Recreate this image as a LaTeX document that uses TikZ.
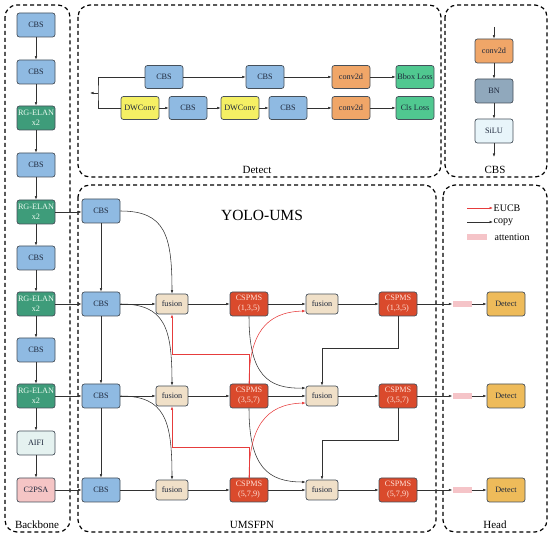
\documentclass[tikz,border=0pt]{standalone}
\usepackage{fontspec}
\setmainfont{Liberation Serif}
\usetikzlibrary{arrows.meta,calc}
\definecolor{cbsblue}{RGB}{143,186,226}
\definecolor{rggreen}{RGB}{62,156,122}
\definecolor{csred}{RGB}{218,74,44}
\definecolor{fusbeige}{RGB}{240,224,200}
\definecolor{convor}{RGB}{240,166,104}
\definecolor{lossgr}{RGB}{80,200,144}
\definecolor{dwyel}{RGB}{245,240,100}
\definecolor{bnslate}{RGB}{144,168,188}
\definecolor{silulb}{RGB}{232,245,250}
\definecolor{aifig}{RGB}{229,242,240}
\definecolor{c2pink}{RGB}{245,197,197}
\definecolor{detgold}{RGB}{238,187,90}
\definecolor{attpink}{RGB}{245,196,200}
\definecolor{boxline}{RGB}{70,80,90}
\definecolor{conline}{RGB}{50,50,50}
\definecolor{eucbred}{RGB}{230,60,60}
\definecolor{txtdark}{RGB}{30,40,60}
\begin{document}
\begin{tikzpicture}[x=1pt,y=-1pt,
  box/.style={draw=boxline, line width=0.7pt, rounded corners=2.5pt,
    minimum width=38pt, minimum height=24pt, inner sep=0.5pt, align=center,
    text=txtdark, font=\fontsize{8.2}{10}\selectfont},
  cbs/.style={box, fill=cbsblue},
  rg/.style={box, fill=rggreen, text={rgb,255:red,235;green,250;blue,240}},
  aifi/.style={box, fill=aifig},
  c2psa/.style={box, fill=c2pink},
  fus/.style={box, fill=fusbeige, minimum width=32pt, minimum height=20pt},
  csp/.style={box, fill=csred, text={rgb,255:red,255;green,225;blue,215}},
  conv/.style={box, fill=convor, minimum height=23pt},
  loss/.style={box, fill=lossgr, minimum height=23pt},
  dw/.style={box, fill=dwyel, minimum height=23pt},
  bn/.style={box, fill=bnslate},
  silu/.style={box, fill=silulb},
  det/.style={box, fill=detgold},
  att/.style={draw=none, fill=attpink, minimum width=19pt, minimum height=6pt, inner sep=0pt},
  line/.style={draw=conline, line width=0.55pt},
  arr/.style={line, -{Latex[length=3.5pt,width=2.6pt]}},
  eucb/.style={arr, draw=eucbred},
  panel/.style={draw=black, line width=1.2pt, dash pattern=on 4pt off 3pt, rounded corners=12pt},
  plabel/.style={font=\fontsize{11}{12}\selectfont, anchor=base},
  legtext/.style={font=\fontsize{10}{12}\selectfont, anchor=west, inner sep=0.5pt}
]
\useasboundingbox (0,0) rectangle (550,537);

% panels
\draw[panel] (5,5) rectangle (70,532);
\draw[panel] (78,5) rectangle (441,177);
\draw[panel] (445,5) rectangle (547,177);
\draw[panel] (78,185) rectangle (436,532);
\draw[panel] (443,185) rectangle (547,532);
\node[plabel] (lbb) at (37,529) {Backbone};
\node[plabel] (ldt) at (257,174) {Detect};
\node[plabel] (lcb) at (495,174) {CBS};
\node[plabel] (lum) at (252,529) {UMSFPN};
\node[plabel] (lhd) at (495,529) {Head};

% backbone
\node[cbs] (b1) at (36,25) {CBS};
\node[cbs] (b2) at (36,72) {CBS};
\node[rg] (b3) at (36,118) {RG-ELAN\\x2};
\node[cbs] (b4) at (36,165) {CBS};
\node[rg] (b5) at (36,212) {RG-ELAN\\x2};
\node[cbs] (b6) at (36,258) {CBS};
\node[rg] (b7) at (36,304) {RG-ELAN\\x2};
\node[cbs] (b8) at (36,350) {CBS};
\node[rg] (b9) at (36,396) {RG-ELAN\\x2};
\node[aifi] (b10) at (36,443) {AIFI};
\node[c2psa] (b11) at (36,490) {C2PSA};
\foreach \i/\j in {1/2,2/3,3/4,4/5,5/6,6/7,7/8,8/9,9/10,10/11}
  \draw[arr] (b\i) -- (b\j);

% detect panel
\node[cbs, minimum height=23pt] (dc1) at (164,77) {CBS};
\node[cbs, minimum height=23pt] (dc2) at (265,77) {CBS};
\node[conv] (dv1) at (351,77) {conv2d};
\node[loss] (bbl) at (415,77) {Bbox Loss};
\node[dw] (dw1) at (140,108) {DWConv};
\node[cbs, minimum height=23pt] (dc3) at (188,108) {CBS};
\node[dw] (dw2) at (240,108) {DWConv};
\node[cbs, minimum height=23pt] (dc4) at (288,108) {CBS};
\node[conv] (dv2) at (351,108) {conv2d};
\node[loss] (cll) at (415,108) {Cls Loss};
\coordinate (sp) at (98,93);
\coordinate (spin) at (90,93);
\draw[line] (dc1.west) -| (sp) |- (dw1.west);
\draw[arr] (sp) -- (spin);
\draw[arr] (dc1) -- (dc2);
\draw[arr] (dc2) -- (dv1);
\draw[arr] (dv1) -- (bbl);
\draw[arr] (dw1) -- (dc3);
\draw[arr] (dc3) -- (dw2);
\draw[arr] (dw2) -- (dc4);
\draw[arr] (dc4) -- (dv2);
\draw[arr] (dv2) -- (cll);

% CBS panel
\node[conv, minimum height=24pt] (k1) at (494,51) {conv2d};
\node[bn] (k2) at (494,91) {BN};
\node[silu] (k3) at (494,131) {SiLU};
\coordinate (kin) at (494,27);
\coordinate (kout) at (494,157);
\draw[arr] (kin) -- (k1);
\draw[arr] (k1) -- (k2);
\draw[arr] (k2) -- (k3);
\draw[arr] (k3) -- (kout);

% UMSFPN
\node[font=\fontsize{15.5}{18}\selectfont] (title) at (262,215) {YOLO-UMS};
\node[cbs] (u1) at (101,211) {CBS};
\node[cbs] (u2) at (101,304) {CBS};
\node[cbs] (u3) at (101,396) {CBS};
\node[cbs] (u4) at (101,490) {CBS};
\foreach \r/\y/\k in {1/304/{(1,3,5)},2/396/{(3,5,7)},3/490/{(5,7,9)}}{
  \node[fus] (fa\r) at (172,\y) {fusion};
  \node[csp] (ca\r) at (249,\y) {CSPMS\\\k};
  \node[fus] (fb\r) at (322,\y) {fusion};
  \node[csp] (cb\r) at (398,\y) {CSPMS\\\k};
  \node[att] (at\r) at (462,\y) {};
  \node[det] (d\r) at (506,\y) {Detect};
  \draw[arr] (fa\r) -- (ca\r);
  \draw[arr] (ca\r) -- (fb\r);
  \draw[arr] (fb\r) -- (cb\r);
  \draw[arr] (cb\r) -- (at\r);
  \draw[arr] (at\r) -- (d\r);
}
\draw[arr] (b5.east) -- (b5.east -| u1.west);
\draw[arr] (b7) -- (u2);
\draw[arr] (b9) -- (u3);
\draw[arr] (b11) -- (u4);
\draw[arr] (u1) -- (u2);
\draw[arr] (u2) -- (u3);
\draw[arr] (u3) -- (u4);
\draw[arr] (u2) -- (fa1);
\draw[arr] (u3) -- (fa2);
\draw[arr] (u4) -- (fa3);
\draw[arr] (u1.east) .. controls (165,211) and (172,235) .. (fa1.north);
\draw[arr] (u2.east) .. controls (165,304) and (172,328) .. (fa2.north);
\draw[arr] (u3.east) .. controls (165,396) and (172,420) .. (fa3.north);

% black copy paths
\draw[arr] (ca1.south) .. controls (249,375) and (268,389) .. ($(fb2.west)+(0,-8)$);
\draw[arr] (ca2.south) .. controls (249,467) and (268,482) .. ($(fb3.west)+(0,-8)$);
\draw[arr] (cb1.south) -- ++(0,32) -| (fb2.north);
\draw[arr] (cb2.south) -- ++(0,32) -| (fb3.north);

% red EUCB paths
\draw[eucb] (ca2.north) -- ++(0,-29) -| (fa1.south);
\draw[eucb] (ca3.north) -- ++(0,-30) -| (fa2.south);
\draw[eucb] (ca2.north) .. controls (249,335) and (265,312) .. ($(fb1.west)+(0,7)$);
\draw[eucb] (ca3.north) .. controls (249,428) and (265,404) .. ($(fb2.west)+(0,7)$);

% legend
\coordinate (le1a) at (467,208);
\coordinate (le1b) at (493,208);
\coordinate (le2a) at (467,222);
\coordinate (le2b) at (493,222);
\draw[eucb] (le1a) -- (le1b);
\node[legtext] (t1) at (493,208) {EUCB};
\draw[arr] (le2a) -- (le2b);
\node[legtext] (t2) at (493,222) {copy};
\node[att, minimum width=20pt] (la) at (477,237) {};
\node[legtext] (t3) at (494,237) {attention};
\end{tikzpicture}
\end{document}
